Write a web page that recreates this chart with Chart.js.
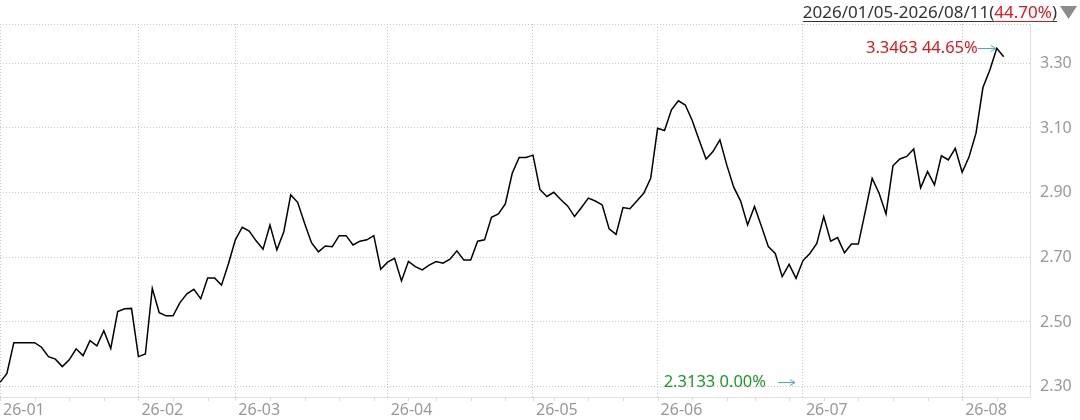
<!DOCTYPE html>
<html>
<head>
<meta charset="utf-8">
<script src="https://cdn.jsdelivr.net/npm/chart.js@4.4.1/dist/chart.umd.min.js"></script>
<style>
  html, body { margin: 0; padding: 0; background: #fff; }
</style>
</head>
<body>
<canvas id="c" width="1080" height="420"></canvas>
<script>
// daily closes 2026/01/05 .. 2026/08/11, one row per month
const prices = [
  2.3133, 2.341, 2.436, 2.436, 2.436, 2.436, 2.422, 2.393, 2.385, 2.362,
  2.383, 2.417, 2.396, 2.442, 2.426, 2.473, 2.418, 2.532, 2.541, 2.542,
  2.393, 2.401, 2.604, 2.529, 2.519, 2.519, 2.560, 2.587, 2.601, 2.572, 2.636, 2.636, 2.614, 2.680,
  2.754, 2.793, 2.781, 2.751, 2.725, 2.800, 2.723, 2.779, 2.893, 2.870, 2.805,
  2.745, 2.717, 2.735, 2.733, 2.767, 2.767, 2.738, 2.750, 2.754, 2.767, 2.663,
  2.685, 2.697, 2.627, 2.687, 2.671, 2.661, 2.676, 2.687, 2.682, 2.694, 2.720,
  2.692, 2.692, 2.750, 2.754, 2.824, 2.834, 2.865, 2.960, 3.009, 3.009,
  3.016, 2.910, 2.888, 2.901, 2.879, 2.859, 2.826, 2.854, 2.883,
  2.874, 2.862, 2.788, 2.771, 2.854, 2.850, 2.874, 2.898, 2.944,
  3.099, 3.092, 3.156, 3.184, 3.171, 3.123, 3.063, 3.004, 3.027, 3.063, 2.985,
  2.917, 2.874, 2.800, 2.857, 2.796, 2.733, 2.712, 2.640, 2.678, 2.635,
  2.690, 2.712, 2.743, 2.826, 2.750, 2.761, 2.714, 2.741, 2.741, 2.841, 2.944, 2.898,
  2.834, 2.983, 3.004, 3.012, 3.035, 2.915, 2.965, 2.924, 3.014, 3.001, 3.037,
  2.963, 3.011, 3.084, 3.225, 3.279, 3.3463, 3.320
];

// trading-day index of each month's first session, and its label
const monthStarts = [0, 20, 34, 56, 77, 95, 116, 139];
const monthLabels = ['26-01', '26-02', '26-03', '26-04', '26-05', '26-06', '26-07', '26-08'];
// first session of each week (small marks on the time axis)
const weekStarts = [0, 5, 10, 15, 20, 25, 30, 34, 39, 44, 49, 54, 59, 63, 68, 73, 77, 80, 85,
  90, 95, 100, 105, 109, 114, 119, 124, 129, 134, 139, 144];

const yTicks = [2.30, 2.50, 2.70, 2.90, 3.10, 3.30];

const rangeText = '2026/01/05-2026/08/11';
const rangePct = '44.70%';

const FONT = '"Noto Sans", "DejaVu Sans", sans-serif';
const RED = '#e0161d';
const GREEN = '#1c9a28';
const ARROW = '#4aaac4';
const DOT = '#c8c8c8';

const base = prices[0];
let maxIdx = 0, minIdx = 0;
prices.forEach((p, i) => {
  if (p > prices[maxIdx]) maxIdx = i;
  if (p < prices[minIdx]) minIdx = i;
});
const pct = v => ((v / base - 1) * 100).toFixed(2) + '%';

function arrow(ctx, x1, x2, y) {
  ctx.strokeStyle = ARROW;
  ctx.lineWidth = 1;
  ctx.beginPath();
  ctx.moveTo(x1, y + 0.5);
  ctx.lineTo(x2, y + 0.5);
  ctx.moveTo(x2 - 5, y - 3 + 0.5);
  ctx.lineTo(x2, y + 0.5);
  ctx.lineTo(x2 - 5, y + 3.5);
  ctx.stroke();
}

const overlay = {
  id: 'overlay',
  afterDraw(chart) {
    const { ctx, chartArea: a, scales: { x, y } } = chart;
    ctx.save();

    // dotted top edge of the plot
    ctx.strokeStyle = DOT;
    ctx.lineWidth = 1;
    ctx.setLineDash([1, 2]);
    ctx.beginPath();
    ctx.moveTo(a.left, a.top + 0.5);
    ctx.lineTo(a.right, a.top + 0.5);
    ctx.stroke();
    ctx.setLineDash([]);

    // weekly marks under the axis
    ctx.strokeStyle = '#dcdcdc';
    weekStarts.forEach(i => {
      const px = Math.round(x.getPixelForValue(i)) + 0.5;
      ctx.beginPath();
      ctx.moveTo(px, a.bottom);
      ctx.lineTo(px, a.bottom + 4);
      ctx.stroke();
    });

    // header: date range and change, right-aligned before the triangle
    ctx.font = '17px ' + FONT;
    ctx.textBaseline = 'middle';
    ctx.textAlign = 'left';
    const hy = 13;
    const parts = [[rangeText + '(', '#333'], [rangePct, RED], [')', '#333']];
    const total = parts.reduce((s, [t]) => s + ctx.measureText(t).width, 0);
    let hx = 1057 - total;
    parts.forEach(([t, c]) => {
      const w = ctx.measureText(t).width;
      ctx.fillStyle = c;
      ctx.fillText(t, hx, hy);
      ctx.fillRect(hx, 21, w, 1);
      hx += w;
    });
    ctx.fillStyle = '#8c8c8c';
    ctx.beginPath();
    ctx.moveTo(1060, 6);
    ctx.lineTo(1077, 6);
    ctx.lineTo(1068.5, 19);
    ctx.closePath();
    ctx.fill();

    // highest close
    const mx = x.getPixelForValue(maxIdx);
    const my = Math.round(y.getPixelForValue(prices[maxIdx]));
    ctx.font = '16.5px ' + FONT;
    ctx.textAlign = 'right';
    ctx.fillStyle = RED;
    ctx.fillText(prices[maxIdx].toFixed(4) + ' ' + pct(prices[maxIdx]), mx - 19, my);
    arrow(ctx, mx - 19, mx - 1, my);

    // lowest close
    const ly = Math.round(y.getPixelForValue(prices[minIdx]));
    ctx.fillStyle = GREEN;
    ctx.fillText(prices[minIdx].toFixed(4) + ' ' + pct(prices[minIdx]), 766, ly);
    arrow(ctx, 778, 795, ly);

    ctx.restore();
  }
};

new Chart(document.getElementById('c'), {
  type: 'line',
  data: {
    datasets: [{
      data: prices.map((p, i) => ({ x: i, y: p })),
      borderColor: '#000',
      borderWidth: 1.5,
      pointRadius: 0,
      tension: 0,
      fill: false
    }]
  },
  options: {
    responsive: false,
    animation: false,
    devicePixelRatio: 1,
    layout: { padding: { top: 24, left: 0, right: 0, bottom: 0 } },
    plugins: { legend: { display: false }, tooltip: { enabled: false } },
    scales: {
      x: {
        type: 'linear',
        min: 0,
        max: 148.8,
        afterBuildTicks: s => { s.ticks = monthStarts.map(v => ({ value: v })); },
        afterFit: s => { s.height = 23; s.paddingLeft = 0; s.paddingRight = 0; },
        grid: { color: DOT, drawTicks: false },
        border: { display: true, color: '#e2e2e2', dash: [1, 2] },
        ticks: {
          autoSkip: false,
          maxRotation: 0,
          align: 'start',
          labelOffset: 3,
          padding: 4,
          color: '#999',
          font: { family: FONT, size: 16 },
          callback: v => monthLabels[monthStarts.indexOf(v)]
        }
      },
      y: {
        position: 'right',
        min: 2.268,
        max: 3.4215,
        afterBuildTicks: s => { s.ticks = yTicks.map(v => ({ value: v })); },
        afterFit: s => { s.width = 50; s.paddingTop = 0; s.paddingBottom = 0; },
        grid: { color: DOT, drawTicks: false },
        border: { display: true, color: '#e2e2e2', dash: [1, 2] },
        ticks: {
          padding: 10,
          color: '#999',
          font: { family: FONT, size: 16 },
          callback: v => v.toFixed(2)
        }
      }
    }
  },
  plugins: [overlay]
});
</script>
</body>
</html>
